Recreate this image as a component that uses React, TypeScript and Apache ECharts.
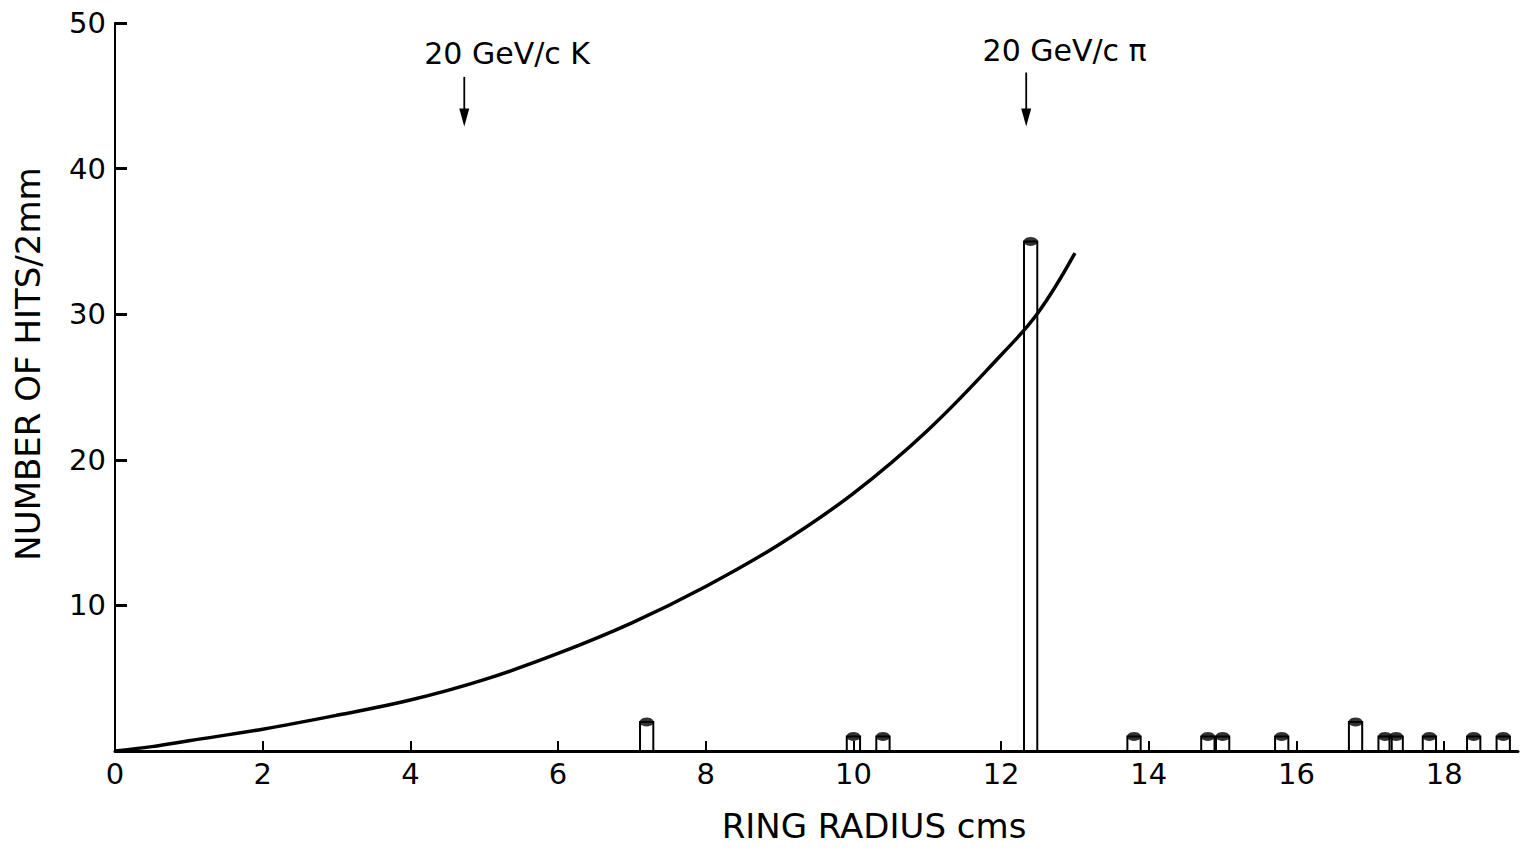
import React, { useEffect, useRef } from "react";
import * as echarts from "echarts";

// Histogram bins (ring radius in cm, centre of 2 mm bin) and hit counts
const barRadius = [7.2, 10.0, 10.4, 12.4, 13.8, 14.8, 15.0, 15.8, 16.8, 17.2, 17.35, 17.8, 18.4, 18.8];
const barHits = [2, 1, 1, 35, 1, 1, 1, 1, 2, 1, 1, 1, 1, 1];
const binHalfWidth = 0.09;

// Smooth expected curve
const curveRadius = [0, 0.5, 1, 2, 3, 4, 5, 6, 7, 8, 9, 10, 11, 12, 12.5, 13];
const curveHits = [0, 0.3, 0.7, 1.5, 2.45, 3.5, 4.9, 6.7, 8.8, 11.3, 14.2, 17.7, 22.0, 27.2, 30.1, 34.2];

// Annotations
const annotLabels = ["20 GeV/c K", "20 GeV/c \u03c0"];
const annotTextX = [5.31, 12.86];
const annotTextY = [47.9, 48.1];
const arrowX = [4.73, 12.34];
const arrowTop = [46.3, 46.6];
const arrowBottom = [42.9, 42.9];

const xTicks = { min: 0, max: 19, interval: 2 };
const yTicks = { min: 0, max: 50, interval: 10 };

const FONT = "DejaVu Sans";

export default function App() {
  const ref = useRef<HTMLDivElement>(null);
  useEffect(() => {
    document.body.style.margin = "0";
    const chart = echarts.init(ref.current!, null, { renderer: "svg" });
    const barData = barRadius.map((r, i) => [r, barHits[i]]);
    const curveData = curveRadius.map((r, i) => [r, curveHits[i]]);
    const annotData = annotLabels.map((t, i) => ({
      value: [annotTextX[i], annotTextY[i], arrowX[i], arrowTop[i], arrowBottom[i]],
      name: t,
    }));

    chart.setOption({
      animation: false,
      backgroundColor: "#ffffff",
      grid: { left: 115, right: 11, top: 23, bottom: 103, containLabel: false },
      xAxis: {
        type: "value",
        min: xTicks.min,
        max: xTicks.max,
        interval: xTicks.interval,
        splitLine: { show: false },
        axisLine: { show: true, lineStyle: { color: "#000", width: 3 } },
        axisTick: { show: true, inside: true, length: 10, lineStyle: { color: "#000", width: 2 } },
        axisLabel: {
          showMaxLabel: false,
          color: "#000",
          fontFamily: FONT,
          fontSize: 29,
          margin: 8,
        },
      },
      yAxis: {
        type: "value",
        min: yTicks.min,
        max: yTicks.max,
        interval: yTicks.interval,
        splitLine: { show: false },
        axisLine: { show: true, lineStyle: { color: "#000", width: 2 } },
        axisTick: { show: true, inside: true, length: 12, lineStyle: { color: "#000", width: 3 } },
        axisLabel: {
          showMinLabel: false,
          color: "#000",
          fontFamily: FONT,
          fontSize: 29,
          margin: 9,
        },
      },
      graphic: [
        {
          type: "text",
          x: 874,
          y: 826,
          style: {
            text: "RING RADIUS cms",
            font: `34px "${FONT}"`,
            fill: "#000",
            align: "center",
            verticalAlign: "middle",
          },
        },
        {
          type: "text",
          x: 28,
          y: 364,
          rotation: Math.PI / 2,
          style: {
            text: "NUMBER OF HITS/2mm",
            font: `34px "${FONT}"`,
            fill: "#000",
            align: "center",
            verticalAlign: "middle",
          },
        },
      ],
      series: [
        {
          type: "line",
          data: curveData,
          smooth: 0.4,
          showSymbol: false,
          lineStyle: { color: "#000", width: 3.5 },
          z: 3,
        },
        {
          type: "custom",
          data: barData,
          z: 4,
          renderItem: (params: any, api: any) => {
            const x = api.value(0);
            const h = api.value(1);
            const p0 = api.coord([x - binHalfWidth, 0]);
            const p1 = api.coord([x + binHalfWidth, h]);
            return {
              type: "rect",
              shape: { x: p0[0], y: p1[1], width: p1[0] - p0[0], height: p0[1] - p1[1] },
              style: { fill: "none", stroke: "#000", lineWidth: 2 },
            };
          },
        },
        {
          type: "scatter",
          data: barData,
          symbol: "circle",
          symbolSize: [14, 9],
          itemStyle: { color: "#000" },
          z: 5,
        },
        {
          type: "custom",
          data: annotData,
          z: 6,
          renderItem: (params: any, api: any) => {
            const t = api.coord([api.value(0), api.value(1)]);
            const a0 = api.coord([api.value(2), api.value(3)]);
            const a1 = api.coord([api.value(2), api.value(4)]);
            const name = annotLabels[params.dataIndex];
            return {
              type: "group",
              children: [
                {
                  type: "text",
                  x: t[0],
                  y: t[1],
                  style: {
                    text: name,
                    font: `30px "${FONT}"`,
                    fill: "#000",
                    align: "center",
                    verticalAlign: "middle",
                  },
                },
                {
                  type: "line",
                  shape: { x1: a0[0], y1: a0[1], x2: a1[0], y2: a1[1] - 14 },
                  style: { stroke: "#000", lineWidth: 1.8 },
                },
                {
                  type: "polygon",
                  shape: {
                    points: [
                      [a1[0] - 5, a1[1] - 18],
                      [a1[0] + 5, a1[1] - 18],
                      [a1[0], a1[1]],
                    ],
                  },
                  style: { fill: "#000" },
                },
              ],
            };
          },
        },
      ],
    });
    return () => chart.dispose();
  }, []);
  return <div ref={ref} style={{ width: 1529, height: 854 }} />;
}
